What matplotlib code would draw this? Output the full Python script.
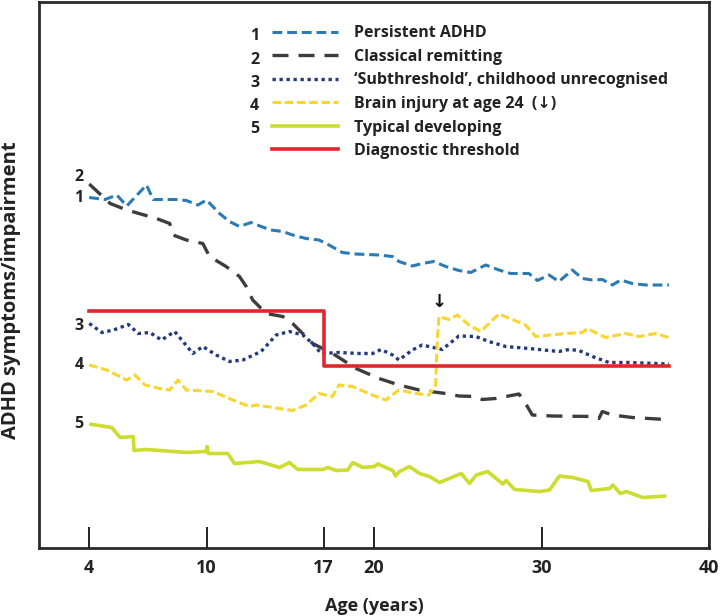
import numpy as np
import matplotlib
matplotlib.use("Agg")
import matplotlib.pyplot as plt
from matplotlib.lines import Line2D

plt.rcParams['font.family'] = ['Open Sans', 'DejaVu Sans']

# ---- data (age in years, symptom level in arbitrary units) ----
persistent_age = [4.0, 4.81, 5.41, 5.92, 6.93, 7.27, 8.46, 8.97, 9.56, 10.0, 10.78, 11.37, 11.97,
                  12.66, 13.26, 13.85, 14.55, 15.14, 15.94, 16.72, 17.31, 18.11, 18.91, 20.3,
                  21.1, 21.49, 22.29, 22.88, 23.58, 24.28, 25.07, 25.77, 26.67, 27.46, 28.16,
                  29.25, 29.75, 30.45, 31.04, 31.84, 32.44, 33.04, 33.63, 34.23, 34.73, 35.42,
                  36.22, 37.61]
persistent_val = [70.1, 69.7, 70.6, 68.4, 72.6, 69.7, 69.7, 69.5, 68.6, 69.6, 66.9, 65.3, 64.3,
                  65.1, 64.3, 63.6, 63.3, 62.6, 61.9, 61.6, 60.6, 59.1, 58.8, 58.6,
                  58.3, 57.3, 56.4, 56.9, 57.3, 56.3, 55.5, 55.1, 56.6, 55.6, 54.9,
                  54.9, 53.5, 54.6, 53.3, 55.6, 53.9, 53.6, 53.7, 52.6, 53.6, 52.9,
                  52.6, 52.6]

remit_age = [4.0, 5.07, 5.92, 7.44, 8.12, 8.29, 8.97, 9.81, 10.18, 11.17, 11.97, 12.37, 12.76,
             13.56, 14.55, 15.14, 16.34, 17.53, 18.93, 20.3, 21.49, 22.69, 24.28, 25.07, 26.07,
             26.46, 27.26, 28.66, 29.05, 29.45, 30.65, 33.04, 33.43, 33.63, 34.23, 35.42, 37.41]
remit_val = [72.8, 68.9, 67.6, 65.9, 64.9, 62.6, 61.6, 60.9, 58.3, 56.3, 54.3, 52.3, 49.6,
             46.9, 46.3, 44.9, 40.9, 38.9, 35.9, 33.9, 32.6, 31.6, 30.9, 30.4, 30.3,
             29.7, 29.9, 30.8, 28.9, 26.6, 26.4, 26.3, 25.9, 27.3, 26.6, 26.1, 25.7]

sub_age = [4.0, 4.65, 5.24, 6.0, 6.51, 7.10, 7.70, 8.37, 8.88, 9.30, 9.81, 10.58, 11.37, 12.17,
           13.26, 14.16, 14.95, 15.75, 16.34, 16.84, 17.93, 19.13, 19.92, 20.42, 21.11, 21.49,
           22.29, 22.88, 24.07, 25.07, 26.07, 26.86, 27.86, 29.25, 31.04, 31.64, 32.24, 33.04,
           34.03, 35.22, 37.61]
sub_val = [44.9, 43.1, 43.6, 44.7, 42.9, 43.1, 41.6, 43.3, 40.9, 38.9, 40.3, 38.6, 37.3, 37.6,
           39.3, 42.6, 43.3, 42.6, 40.9, 38.9, 39.1, 38.9, 38.9, 39.7, 38.6, 37.6,
           39.6, 40.6, 39.7, 42.4, 42.3, 41.3, 40.3, 39.9, 39.3, 39.7, 39.5, 38.3,
           37.1, 37.1, 36.8]

injury_age = [4.0, 4.90, 5.92, 6.34, 6.85, 7.61, 8.12, 8.54, 8.97, 10.38, 11.57, 12.57, 12.97,
              15.14, 15.94, 16.72, 17.52, 17.91, 18.71, 19.90, 20.7, 21.49, 22.49, 23.28, 23.68,
              23.78, 23.88, 24.48, 24.97, 25.67, 26.37, 27.46, 29.05, 29.65, 31.44, 32.44, 32.73,
              33.83, 35.02, 35.82, 36.81, 37.61]
injury_val = [36.6, 35.6, 33.6, 34.6, 32.6, 31.9, 31.6, 33.6, 31.6, 31.3, 29.6, 28.3, 28.6,
              27.5, 28.6, 30.9, 30.3, 32.6, 32.3, 30.6, 29.6, 31.6, 30.9, 30.6, 32.6,
              41.6, 46.3, 45.7, 46.6, 44.6, 43.3, 46.8, 44.6, 42.3, 42.9, 43.1, 43.9,
              42.1, 42.9, 42.3, 42.9, 42.1]

typical_age = [4.0, 5.15, 5.41, 5.58, 6.25, 6.29, 6.93, 8.97, 9.98, 10.04, 10.10, 11.27, 11.67,
               13.16, 14.36, 14.95, 15.45, 16.94, 17.24, 17.74, 18.43, 18.73, 19.33, 20.03,
               20.23, 21.12, 21.28, 21.52, 22.12, 22.72, 23.31, 23.91, 25.21, 25.70, 26.10,
               26.79, 27.69, 27.89, 28.39, 29.88, 30.48, 31.07, 31.87, 32.77, 32.97, 34.06,
               34.26, 34.70, 35.06, 36.05, 37.45]
typical_val = [24.8, 24.1, 22.9, 22.1, 22.3, 19.5, 19.7, 19.1, 19.3, 20.3, 18.9, 18.9, 16.9,
               17.3, 16.1, 17.1, 15.7, 15.7, 16.1, 15.5, 15.6, 17.1, 16.1, 16.3,
               16.8, 15.5, 14.4, 15.3, 16.3, 14.9, 14.3, 13.1, 14.9, 12.9, 14.6,
               15.3, 12.8, 13.5, 11.7, 11.3, 11.6, 14.4, 14.1, 13.3, 11.5, 11.9,
               12.6, 10.9, 11.3, 10.1, 10.4]

threshold_age = [4.0, 17.0, 37.61]
threshold_val = [47.4, 36.4, 36.4]

injury_onset = 23.9
x_ticks = [4, 10, 17, 20, 30, 40]

# number, legend text, x, y, label nudge, line style
series = [
    ("1", "Persistent ADHD", persistent_age, persistent_val, 0.0,
     dict(color="#2a7ab5", lw=2.2, dashes=(3.2, 1.6))),
    ("2", "Classical remitting", remit_age, remit_val, 1.4,
     dict(color="#3d3d3d", lw=2.4, dashes=(4.8, 3.0))),
    ("3", "\u2018Subthreshold\u2019, childhood unrecognised", sub_age, sub_val, -0.4,
     dict(color="#233a7e", lw=2.4, dashes=(1.0, 1.1))),
    ("4", "Brain injury at age 24  (\u2193)", injury_age, injury_val, 0.0,
     dict(color="#f7d630", lw=2.2, dashes=(2.8, 1.2))),
    ("5", "Typical developing", typical_age, typical_val, 0.0,
     dict(color="#cddc30", lw=2.6)),
]
TXT = '#222222'


# the 4-10 span is drawn a bit wider than the rest of the axis
def fwd(a):
    a = np.asarray(a, dtype=float)
    return np.where(a < 10, 10 - (10 - a) * 7 / 6, a)


def inv(p):
    p = np.asarray(p, dtype=float)
    return np.where(p < 10, 10 - (10 - p) * 6 / 7, p)


fig = plt.figure(figsize=(7.2, 6.16), dpi=100)
ax = fig.add_axes([39 / 720, 68 / 616, 670 / 720, 546 / 616])
ax.set_xscale('function', functions=(fwd, inv))

handles = []
for num, label, xs, ys, nudge, style in series:
    ax.plot(xs, ys, solid_capstyle='butt', dash_capstyle='butt', **style)
    handles.append(Line2D([], [], **style))
    # number at start of each curve
    ax.text(xs[0] - 0.3, ys[0] + nudge, num, ha='right', va='center', fontsize=11.5,
            fontweight='bold', color=TXT)

ax.step(threshold_age, threshold_val, where='post', color="#e2262c", lw=2.6)
handles.append(Line2D([], [], color="#e2262c", lw=2.6))

ax.text(injury_onset, 49.2, "\u2193", ha='center', va='center', fontsize=13,
        family=['DejaVu Sans'], fontweight='bold', color='#111111')

leg = ax.legend(handles, [s[1] for s in series] + ["Diagnostic threshold"],
                loc='upper left', bbox_to_anchor=(0.348, 0.957), frameon=False,
                borderpad=0, borderaxespad=0, handlelength=4.1, handletextpad=1.05,
                labelspacing=0.47, prop=dict(size=11.5, weight='bold'))
for t in leg.get_texts():
    t.set_color(TXT)

# legend numbers
for i, s in enumerate(series):
    ax.text(0.322, 0.937 - i * 0.0426, s[0], transform=ax.transAxes, ha='center',
            va='center', fontsize=11.5, fontweight='bold', color=TXT)

ax.set_xlim(float(inv(0)), 40)
ax.set_ylim(0, 109.2)
ax.set_yticks([])
ax.set_xticks(x_ticks)
ax.set_xticklabels([str(t) for t in x_ticks])
ax.minorticks_off()
ax.tick_params(axis='x', direction='in', length=15, width=1.4, pad=8,
               labelsize=13, labelcolor=TXT, color='#222222')
for t in ax.get_xticklabels():
    t.set_fontweight('bold')
for sp in ax.spines.values():
    sp.set_linewidth(2.0)
    sp.set_color('#2a2a2a')

ax.set_xlabel("Age (years)", fontsize=13, fontweight='bold', labelpad=14, color=TXT)
ax.set_ylabel("ADHD symptoms/impairment", fontsize=14.5, fontweight='bold', color=TXT)
ax.yaxis.set_label_coords(-0.027, 0.472)

fig.savefig("out.png", dpi=100)
